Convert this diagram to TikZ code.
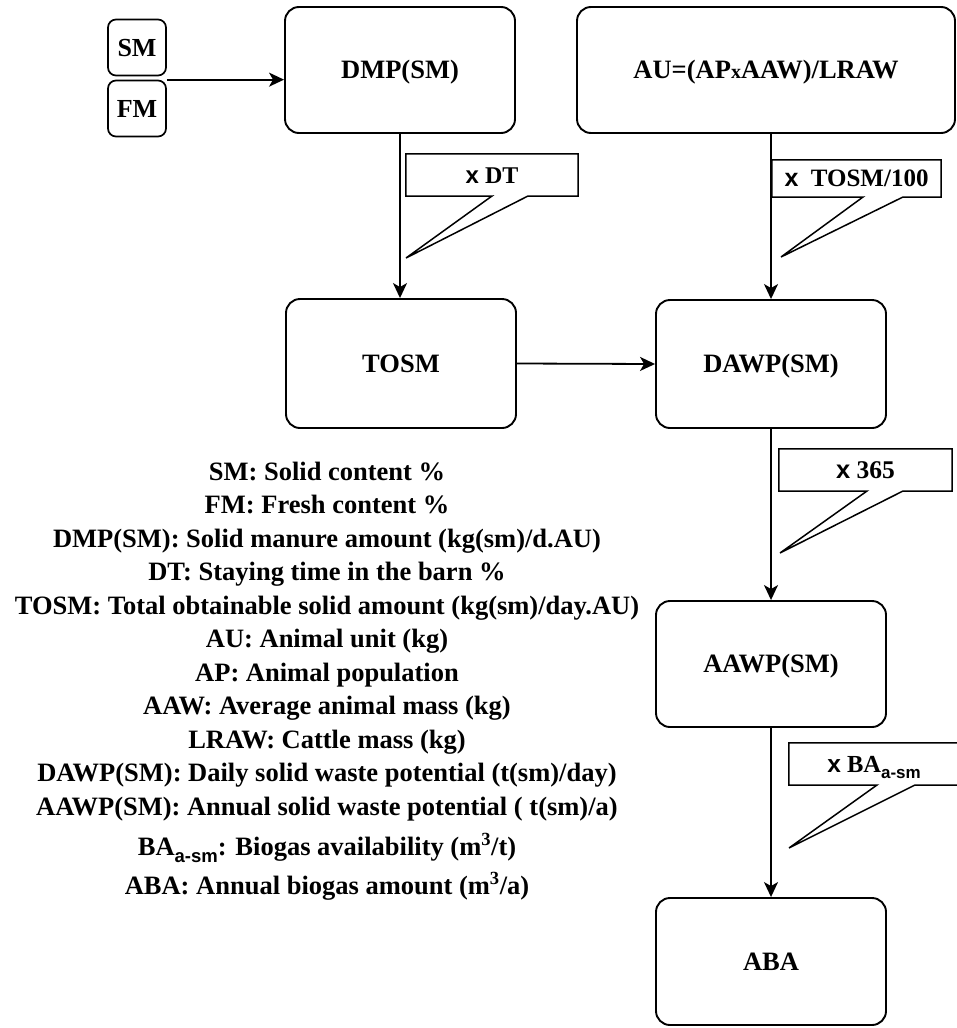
\documentclass[tikz,border=0pt]{standalone}
\usepackage{fontspec}
\setmainfont{Liberation Serif}
\newfontfamily\sansx{Liberation Sans}
\usetikzlibrary{arrows.meta}
\newcommand\xs{{\sansx\bfseries x}}
\newcommand\legsub{\raisebox{-0.28em}{\fontsize{18.5}{18.5}\selectfont\sansx\bfseries a-sm}}
\newcommand\callsub{\raisebox{-0.28em}{\fontsize{17}{17}\selectfont\sansx\bfseries a-sm}}
\tikzset{
  box/.style={draw, line width=1.9pt, rounded corners=14pt, align=center,
    font=\fontsize{26.5}{30}\selectfont\bfseries, inner sep=0pt,
    text height=17.5pt, text depth=0pt},
  smallbox/.style={draw, line width=1.7pt, rounded corners=8pt,
    font=\fontsize{26}{30}\selectfont\bfseries, inner sep=0pt,
    text height=17pt, text depth=0pt,
    minimum width=58pt, minimum height=56pt},
  flow/.style={line width=1.8pt, -{Stealth[length=15pt,width=14pt,inset=4pt]}},
  legend/.style={anchor=base, font=\fontsize{26.5}{30}\selectfont\bfseries, inner sep=0pt},
  callbox/.style={font=\fontsize{23}{26}\selectfont\bfseries, inner sep=0pt,
    text height=16pt, text depth=0pt},
  callline/.style={line width=1.5pt, line join=miter},
}
\begin{document}
\begin{tikzpicture}[x=1pt,y=-1pt]
\useasboundingbox (0,0) rectangle (957,1028);
\clip (0,0) rectangle (957,1028);
% main boxes
\node[smallbox] (sm) at (137,47.5) {SM};
\node[smallbox] (fm) at (137,108.5) {FM};
\node[box, minimum width=230pt, minimum height=126pt] (dmp) at (400,70) {DMP(SM)};
\node[box, minimum width=378pt, minimum height=126pt] (au) at (766,70) {AU=(AP{\fontsize{20}{20}\selectfont x}AAW)/LRAW};
\node[box, minimum width=230pt, minimum height=129pt] (tosm) at (401,363.5) {TOSM};
\node[box, minimum width=230pt, minimum height=128pt] (dawp) at (771,364) {DAWP(SM)};
\node[box, minimum width=230pt, minimum height=126pt] (aawp) at (771,664) {AAWP(SM)};
\node[box, minimum width=230pt, minimum height=127pt] (aba) at (771,961.5) {ABA};
% connectors
\draw[flow] (fm.north east) -- (fm.north east -| dmp.west);
\draw[flow] (dmp.south) -- (dmp.south |- tosm.north);
\draw[flow] (dawp.north |- au.south) -- (dawp.north);
\draw[flow] (tosm.east) -- (dawp.west);
\draw[flow] (dawp.south) -- (aawp.north);
\draw[flow] (aawp.south) -- (aba.north);
% callouts
\node[callbox, font=\fontsize{24}{26}\selectfont\bfseries, minimum width=172pt, minimum height=42pt] (c1) at (492,175) {\xs\ DT};
\draw[callline] (c1.south west) -- (492,196) -- (406,258) -- (528,196) -- (c1.south east) -- (c1.north east) -- (c1.north west) -- cycle;
\node[callbox, font=\fontsize{25}{26}\selectfont\bfseries, minimum width=169pt, minimum height=37pt] (c2) at (856.5,178.5) {\xs\ \ TOSM/100};
\draw[callline] (c2.south west) -- (863,197) -- (781,257) -- (903,197) -- (c2.south east) -- (c2.north east) -- (c2.north west) -- cycle;
\node[callbox, font=\fontsize{25.5}{28}\selectfont\bfseries, text height=17pt, minimum width=173pt, minimum height=42pt] (c3) at (865.5,470) {\xs\ 365};
\draw[callline] (c3.south west) -- (867,491) -- (780,553) -- (903,491) -- (c3.south east) -- (c3.north east) -- (c3.north west) -- cycle;
\node[callbox, minimum width=186pt, minimum height=42pt] (c4) at (882,764) {};
\draw[callline] (c4.south west) -- (877,785) -- (789,848) -- (915,785) -- (c4.south east) -- (c4.north east) -- (c4.north west) -- cycle;
\node[callbox, font=\fontsize{24.5}{26}\selectfont\bfseries, text height=16pt] (c4t) at (874,764) {\xs\ BA\callsub};
% legend
\node[legend] (l1) at (327,480) {SM: Solid content \%};
\node[legend] (l2) at (327,513.5) {FM: Fresh content \%};
\node[legend] (l3) at (327,547) {DMP(SM): Solid manure amount (kg(sm)/d.AU)};
\node[legend] (l4) at (327,580.5) {DT: Staying time in the barn \%};
\node[legend] (l5) at (327,614) {TOSM: Total obtainable solid amount (kg(sm)/day.AU)};
\node[legend] (l6) at (327,647.5) {AU: Animal unit (kg)};
\node[legend] (l7) at (327,681) {AP: Animal population};
\node[legend] (l8) at (327,714.5) {AAW: Average animal mass (kg)};
\node[legend] (l9) at (327,748) {LRAW: Cattle mass (kg)};
\node[legend] (l10) at (327,781.5) {DAWP(SM): Daily solid waste potential (t(sm)/day)};
\node[legend] (l11) at (327,815) {AAWP(SM): Annual solid waste potential ( t(sm)/a)};
\node[legend] (l12) at (327,855) {BA\legsub: Biogas availability (m\textsuperscript{3}/t)};
\node[legend] (l13) at (327,894) {ABA: Annual biogas amount (m\textsuperscript{3}/a)};
\end{tikzpicture}
\end{document}
